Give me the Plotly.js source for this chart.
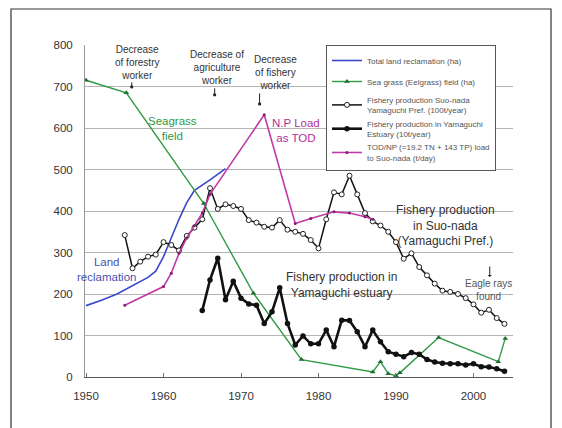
<!DOCTYPE html>
<html>
<head>
<meta charset="utf-8">
<script src="https://cdn.plot.ly/plotly-3.0.1.min.js"></script>
<style>html,body{margin:0;padding:0;background:#fff;}#chart{width:562px;height:428px;}</style>
</head>
<body>
<div id="chart"></div>
<script>
// ---- data ----
const landYears = [1950, 1952, 1954, 1956, 1958, 1959, 1960, 1961, 1962, 1963, 1964, 1966, 1968];
const landValues = [172, 185, 200, 220, 240, 255, 290, 335, 380, 420, 450, 475, 502];

const seagrassYears = [1950, 1955.2, 1965.2, 1971.6, 1977.8, 1987, 1988, 1989, 1990, 1990.5, 1995.5, 2003.2, 2004.1];
const seagrassValues = [715, 685, 418, 202, 42, 12, 37, 8, 3, 10, 95, 37, 93];

const suoYears = [1955,1956,1957,1958,1959,1960,1961,1962,1963,1964,1965,1966,1967,1968,1969,1970,1971,1972,1973,1974,1975,1976,1977,1978,1979,1980,1981,1982,1983,1984,1985,1986,1987,1988,1989,1990,1991,1992,1993,1994,1995,1996,1997,1998,1999,2000,2001,2002,2003,2004];
const suoValues = [342,262,278,290,295,325,318,305,340,360,380,455,405,416,412,405,378,372,362,360,378,355,350,345,330,310,380,445,440,485,440,395,375,365,350,325,285,298,265,245,225,208,205,200,190,175,155,162,142,128];

const estYears = [1965,1966,1967,1968,1969,1970,1971,1972,1973,1974,1975,1976,1977,1978,1979,1980,1981,1982,1983,1984,1985,1986,1987,1988,1989,1990,1991,1992,1993,1994,1995,1996,1997,1998,1999,2000,2001,2002,2003,2004];
const estValues = [160,234,286,186,231,190,176,173,129,157,215,129,77,99,80,80,113,73,137,136,109,73,113,85,61,55,49,59,55,42,36,33,32,32,29,32,25,24,20,14];

const todYears = [1955, 1960, 1961, 1962, 1963, 1964, 1965, 1966, 1973, 1977, 1979, 1982, 1984, 1986, 1987];
const todValues = [173, 218, 250, 298, 335, 365, 395, 440, 632, 370, 382, 398, 395, 386, 380];

const seriesNames = [
  "Total land reclamation (ha)",
  "Sea grass (Eelgrass) field (ha)",
  "Fishery production Suo-nada<br>Yamaguchi Pref. (100t/year)",
  "Fishery production in Yamaguchi<br>Estuary (10t/year)",
  "TOD/NP (=19.2 TN + 143 TP) load<br>to Suo-nada (t/day)"
];
const xTicks = [1950, 1960, 1970, 1980, 1990, 2000];
const yTicks = [0, 100, 200, 300, 400, 500, 600, 700, 800];

// ---- traces ----
const traces = [
  {x: landYears, y: landValues, name: seriesNames[0], mode: 'lines', legendgroup: 'a',
   line: {color: '#3a48c8', width: 1.6}},
  {x: seagrassYears, y: seagrassValues, name: seriesNames[1], mode: 'lines+markers', legendgroup: 'b',
   line: {color: '#2f9a44', width: 1.4},
   marker: {symbol: 'triangle-up', size: 5, color: '#1f6e2f'}},
  {x: suoYears, y: suoValues, name: seriesNames[2], mode: 'lines+markers', legendgroup: 'c',
   line: {color: '#111', width: 1.5},
   marker: {symbol: 'circle', size: 5, color: '#fff', line: {color: '#222', width: 1}}},
  {x: estYears, y: estValues, name: seriesNames[3], mode: 'lines+markers', legendgroup: 'c',
   line: {color: '#111', width: 2.6},
   marker: {symbol: 'circle', size: 5.5, color: '#111'}},
  {x: todYears, y: todValues, name: seriesNames[4], mode: 'lines+markers', legendgroup: 'c',
   line: {color: '#c03aa8', width: 1.6},
   marker: {symbol: 'circle', size: 3, color: '#8a1a78'}}
];

const txt = '#333';
const fontFam = '"Liberation Sans", Arial, sans-serif';
function label(x, y, text, size, color) {
  return {x: x, y: y, xref: 'x', yref: 'y', text: text, showarrow: false,
          font: {family: fontFam, size: size, color: color}, align: 'center'};
}
function pointer(x, y, ay, head, size) {
  return {x: x, y: y, xref: 'x', yref: 'y', text: '', showarrow: true, ax: 0, ay: ay,
          arrowhead: head, arrowsize: size, arrowwidth: 1, arrowcolor: '#222'};
}

const annotations = [
  label(1956.6, 759, 'Decrease<br>of forestry<br>worker', 10, txt),
  pointer(1955.9, 699, -6, 6, 0.8),
  label(1966.9, 747, 'Decrease of<br>agriculture<br>worker', 10, txt),
  pointer(1966.6, 680, -8, 6, 0.8),
  label(1974.4, 733, 'Decrease<br>of fishery<br>worker', 10, txt),
  pointer(1972.4, 658, -12, 6, 0.8),
  label(1961.1, 600, 'Seagrass<br>field', 11.5, '#2f9a44'),
  label(1977.1, 593, 'N.P Load<br>as TOD', 11.5, '#b03098'),
  label(1952.6, 260, 'Land<br>reclamation', 11.5, '#4a50b0'),
  label(1996.4, 366, 'Fishery production<br>in Suo-nada<br>(Yamaguchi Pref.)', 12, txt),
  label(1983.0, 222, 'Fishery production in<br>Yamaguchi estuary', 12, txt),
  label(2001.9, 210, 'Eagle rays<br>found', 10, '#555'),
  pointer(2002.1, 241, -12, 1, 0.7)
];

const layout = {
  width: 562, height: 428,
  margin: {l: 85, r: 49, t: 45, b: 51, pad: 0},
  paper_bgcolor: '#fff', plot_bgcolor: '#fff',
  font: {family: fontFam, size: 11.5, color: txt},
  showlegend: true,
  legend: {x: 0.563, y: 1, xanchor: 'left', yanchor: 'top',
           bgcolor: '#fff', bordercolor: '#555', borderwidth: 1,
           font: {family: fontFam, size: 8, color: '#555'},
           traceorder: 'grouped', tracegroupgap: 2, itemwidth: 30},
  xaxis: {range: [1949.87, 2005.1], tickvals: xTicks, ticktext: xTicks.map(String),
          showgrid: false, zeroline: false, showline: true, linecolor: '#555', linewidth: 1,
          ticks: 'inside', ticklen: 4, tickcolor: '#777', ticklabelstandoff: 8,
          tickfont: {size: 11.5, color: txt}},
  yaxis: {range: [0, 800], tickvals: yTicks, ticktext: yTicks.map(String),
          showgrid: true, gridcolor: '#b4b4b4', gridwidth: 1, zeroline: false,
          showline: true, linecolor: '#999', linewidth: 1, ticks: '', ticklabelstandoff: 9,
          tickfont: {size: 11.5, color: txt}},
  annotations: annotations,
  shapes: [
    {type: 'rect', xref: 'paper', yref: 'paper', x0: -0.1729, x1: 1.0888, y0: -0.16, y1: 1.1084,
     line: {color: '#333', width: 1.2}, fillcolor: 'rgba(0,0,0,0)', layer: 'below'}
  ]
};

Plotly.newPlot('chart', traces, layout, {staticPlot: true, displayModeBar: false});
</script>
</body>
</html>
